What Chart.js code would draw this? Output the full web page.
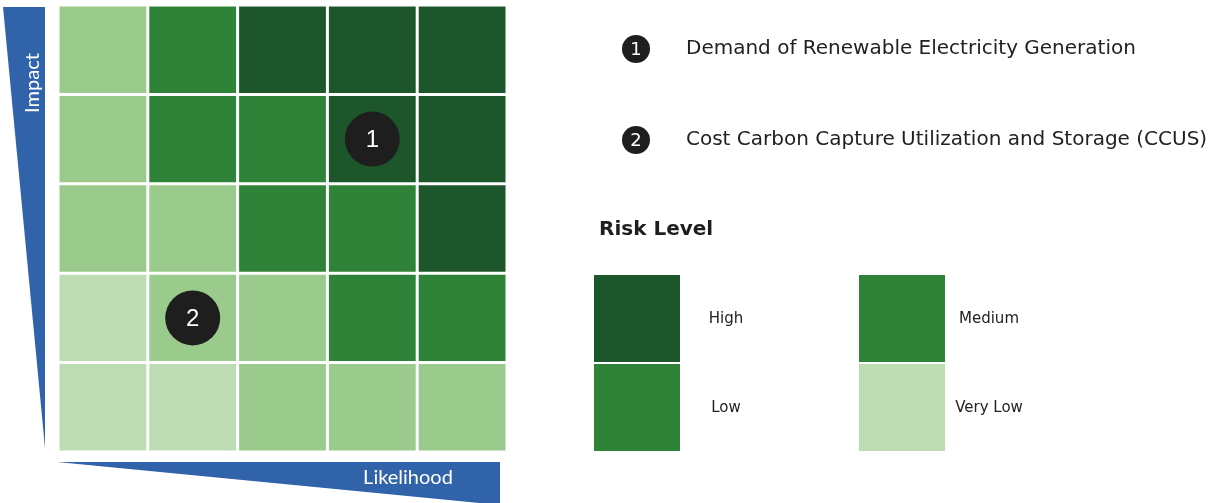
<!DOCTYPE html>
<html>
<head>
<meta charset="utf-8">
<title>Risk Matrix</title>
<script src="https://cdn.jsdelivr.net/npm/chart.js@4.4.1/dist/chart.umd.min.js"></script>
<style>
  html, body { margin: 0; padding: 0; background: #fff; }
  #contenedor { width: 1208px; height: 503px; position: relative; }
</style>
</head>
<body>
<div id="contenedor"><canvas id="matriz"></canvas></div>
<script>
// ejes de la matriz
const probabilidad = ['1', '2', '3', '4', '5'];   // Likelihood
const impactos = [1, 2, 3, 4, 5];                 // Impact, de abajo hacia arriba

// colores por nivel
const colores = {
  alto: '#1e562b',
  medio: '#2f8338',
  bajo: '#9bca8d',
  muyBajo: '#bedcb4'
};

// nivel de cada celda, una fila por impacto (1 abajo, 5 arriba)
const niveles = [
  ['muyBajo', 'muyBajo', 'bajo', 'bajo', 'bajo'],
  ['muyBajo', 'bajo', 'bajo', 'medio', 'medio'],
  ['bajo', 'bajo', 'medio', 'medio', 'alto'],
  ['bajo', 'medio', 'medio', 'alto', 'alto'],
  ['bajo', 'medio', 'alto', 'alto', 'alto']
];

// riesgos marcados
const riesgos = [
  'Demand of Renewable Electricity Generation',
  'Cost Carbon Capture Utilization and Storage (CCUS)'
];
const riesgoProbabilidad = ['4', '2'];
const riesgoImpacto = [4, 2];

// leyenda de niveles
const leyendaTextos = ['High', 'Medium', 'Low', 'Very Low'];
const leyendaColores = [colores.alto, colores.medio, colores.medio, colores.muyBajo];

const datasets = impactos.map((imp, fila) => ({
  label: 'Impact ' + imp,
  data: probabilidad.map(() => 1),
  backgroundColor: niveles[fila].map(n => colores[n]),
  borderColor: '#ffffff',
  borderWidth: 1.5,
  borderSkipped: false,
  inflateAmount: 0,
  barPercentage: 1,
  categoryPercentage: 1,
  stack: 'celdas',
  order: 1
}));

datasets.push({
  type: 'scatter',
  label: 'Riesgos',
  data: riesgos.map((_, i) => ({ x: riesgoProbabilidad[i], y: riesgoImpacto[i] - 0.5 })),
  yAxisID: 'yRiesgo',
  pointRadius: 27.5,
  pointHoverRadius: 27.5,
  pointBackgroundColor: '#1e1e1e',
  pointBorderWidth: 0,
  order: -1
});

// numeros sobre los circulos
const numeros = {
  id: 'numeros',
  afterDatasetsDraw(chart) {
    const ctx = chart.ctx;
    const meta = chart.getDatasetMeta(chart.data.datasets.length - 1);
    ctx.save();
    ctx.fillStyle = '#ffffff';
    ctx.font = '24px "Liberation Sans", Arial, sans-serif';
    ctx.textAlign = 'center';
    ctx.textBaseline = 'middle';
    meta.data.forEach((p, i) => ctx.fillText(String(i + 1), p.x, p.y + 1));
    ctx.restore();
  }
};

// cunas azules de los ejes y leyenda lateral
const decoracion = {
  id: 'decoracion',
  afterDraw(chart) {
    const ctx = chart.ctx;
    const a = chart.chartArea;
    ctx.save();

    // cuna vertical (Impact)
    ctx.fillStyle = '#3163ab';
    ctx.beginPath();
    ctx.moveTo(a.left - 55, a.top + 2);
    ctx.lineTo(a.left - 13, a.top + 2);
    ctx.lineTo(a.left - 13, a.bottom - 4);
    ctx.closePath();
    ctx.fill();

    // cuna horizontal (Likelihood)
    ctx.beginPath();
    ctx.moveTo(a.left - 1, a.bottom + 10);
    ctx.lineTo(a.right - 7, a.bottom + 10);
    ctx.lineTo(a.right - 7, a.bottom + 53);
    ctx.closePath();
    ctx.fill();

    ctx.fillStyle = '#ffffff';
    ctx.font = '20px Lato, sans-serif';
    ctx.textAlign = 'center';
    ctx.textBaseline = 'middle';
    ctx.save();
    ctx.translate(a.left - 25, a.top + 78);
    ctx.rotate(-Math.PI / 2);
    ctx.fillText('Impact', 0, 0);
    ctx.restore();
    ctx.fillText('Likelihood', 408, a.bottom + 26);

    // lista de riesgos
    riesgos.forEach((txt, i) => {
      const y = 49 + i * 91;
      ctx.fillStyle = '#1e1e1e';
      ctx.beginPath();
      ctx.arc(636, y, 14, 0, Math.PI * 2);
      ctx.fill();
      ctx.fillStyle = '#ffffff';
      ctx.font = '18px "DejaVu Sans", sans-serif';
      ctx.textAlign = 'center';
      ctx.fillText(String(i + 1), 636, y + 1);
      ctx.fillStyle = '#222222';
      ctx.textAlign = 'left';
      ctx.font = '20px "DejaVu Sans", sans-serif';
      ctx.fillText(txt, 686, y);
    });

    // titulo de niveles
    ctx.fillStyle = '#1e1e1e';
    ctx.font = 'bold 20px "DejaVu Sans", sans-serif';
    ctx.textAlign = 'left';
    ctx.fillText('Risk Level', 599, 230);

    // cuadros de la leyenda, dos columnas
    const cols = [[594, 726], [859, 989]];
    const filas = [275, 364];
    const orden = [[0, 0], [1, 0], [0, 1], [1, 1]]; // [columna, fila]
    ctx.font = '15px "DejaVu Sans", sans-serif';
    ctx.textAlign = 'center';
    leyendaTextos.forEach((txt, i) => {
      const [c, f] = orden[i];
      ctx.fillStyle = leyendaColores[i];
      ctx.fillRect(cols[c][0], filas[f], 86, 87);
      ctx.fillStyle = '#222222';
      ctx.fillText(txt, cols[c][1], filas[f] + 44);
    });

    ctx.restore();
  }
};

new Chart(document.getElementById('matriz'), {
  type: 'bar',
  data: { labels: probabilidad, datasets },
  options: {
    responsive: true,
    maintainAspectRatio: false,
    animation: false,
    layout: { autoPadding: false, padding: { left: 58, top: 5, right: 701, bottom: 51 } },
    plugins: { legend: { display: false }, tooltip: { enabled: false } },
    scales: {
      x: { display: false, stacked: true, offset: true },
      y: { display: false, stacked: true, min: 0, max: 5 },
      yRiesgo: { display: false, min: 0, max: 5 }
    }
  },
  plugins: [numeros, decoracion]
});
</script>
</body>
</html>
